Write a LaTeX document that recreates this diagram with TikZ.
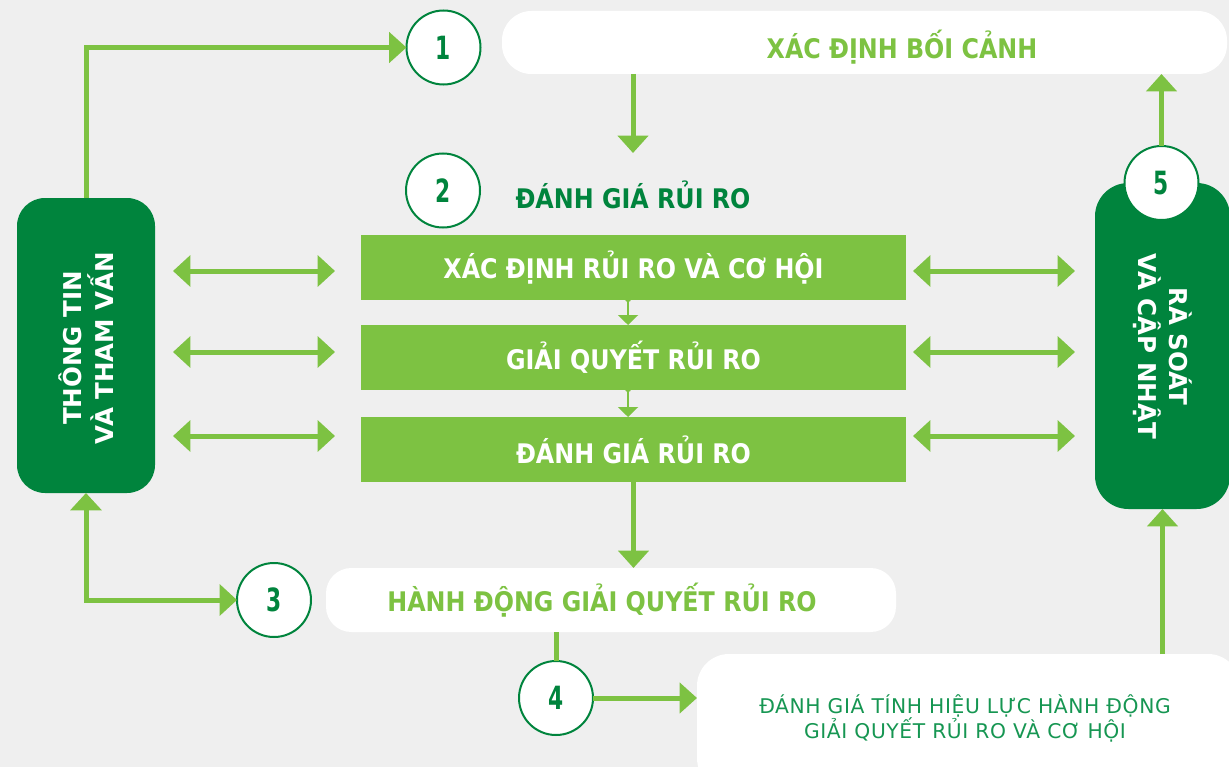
\documentclass[tikz,border=0pt]{standalone}
\usepackage{fontspec}
\setmainfont{DejaVu Sans}
\usetikzlibrary{arrows.meta}
\definecolor{bgc}{RGB}{239,239,239}
\definecolor{dg}{RGB}{0,132,61}
\definecolor{lg}{RGB}{125,194,66}
\definecolor{mg}{RGB}{22,150,82}
\newcommand\numtxt[1]{\scalebox{0.68}[1]{#1}}
\newcommand\tallbig[1]{\scalebox{0.97}[1.1]{#1}}
\tikzset{
  bigtxt/.style={font=\fontsize{18.4}{23.5}\selectfont\bfseries},
  arr/.style={draw=lg, line width=3.75pt, -{Triangle[length=13pt,width=22.5pt]}},
  darr/.style={draw=lg, line width=3.75pt, {Triangle[length=13pt,width=23pt]}-{Triangle[length=13pt,width=23pt]}},
  plainln/.style={draw=lg, line width=3.75pt},
  sarr/.style={draw=lg, line width=1.5pt, {Circle[length=4.5pt]}-{Triangle[length=7.5pt,width=15pt]}},
  num/.style={circle, draw=dg, line width=1.5pt, fill=white, minimum size=55.5pt, inner sep=0pt, outer sep=0pt, text=dg, font=\fontsize{24}{24}\selectfont\bfseries},
  wbox/.style={fill=white, draw=none, inner sep=0pt, outer sep=0pt},
  gbox/.style={fill=lg, draw=none, inner sep=0pt, outer sep=0pt, minimum width=408.75pt, minimum height=48.75pt, text=white, bigtxt},
  dbox/.style={fill=dg, draw=none, inner sep=0pt, outer sep=0pt},
}
\begin{document}
\begin{tikzpicture}[x=0.75pt, y=-0.75pt]
\useasboundingbox (0,0) rectangle (1229,767);
\fill[bgc] (0,0) rectangle (1229,767);
\clip (0,0) rectangle (1229,767);

% white boxes
\node[wbox, minimum width=543.75pt, minimum height=47.25pt, rounded corners=22pt] (t1) at (864.5,42.5) {};
\node[text=lg, bigtxt] (t1txt) at (902,47) {\tallbig{XÁC ĐỊNH BỐI CẢNH}};

\node[wbox, minimum width=427.5pt, minimum height=48pt, rounded corners=19pt] (H) at (611,600) {};
\node[text=lg, bigtxt] (Htxt) at (602,600) {\tallbig{HÀNH ĐỘNG GIẢI QUYẾT RỦI RO}};

\node[wbox, minimum width=407.25pt, minimum height=102pt, rounded corners=24pt] (E) at (968.5,722) {};
\node[text=mg, align=center, font=\fontsize{15.2}{17.25}\selectfont\addfontfeature{LetterSpace=3}] (Etxt) at (965,718.5) {ĐÁNH GIÁ TÍNH HIỆU LỰC HÀNH ĐỘNG\\GIẢI QUYẾT RỦI RO VÀ CƠ HỘI};

% label of step 2
\node[text=dg, bigtxt] (l2) at (633,195) {\tallbig{ĐÁNH GIÁ RỦI RO}};

% green boxes
\node[gbox] (A) at (633.5,267.5) {\tallbig{XÁC ĐỊNH RỦI RO VÀ CƠ HỘI}};
\node[gbox] (B) at (633.5,357.5) {\tallbig{GIẢI QUYẾT RỦI RO}};
\node[gbox] (C) at (633.5,449.5) {\tallbig{ĐÁNH GIÁ RỦI RO}};

% dark side boxes
\node[dbox, minimum width=103.5pt, minimum height=221.25pt, rounded corners=21pt] (L) at (86,345.5) {};
\node[rotate=90, align=center, text=white, bigtxt] (Ltxt) at (86,348) {THÔNG TIN\\VÀ THAM VẤN};

\node[dbox, minimum width=101.25pt, minimum height=244.5pt, rounded corners=25pt] (R) at (1162.5,346) {};
\node[rotate=-90, align=center, text=white, bigtxt] (Rtxt) at (1163,346.5) {RÀ SOÁT\\VÀ CẬP NHẬT};

% number circles
\node[num] (c1) at (443.5,47.5) {\numtxt{1}};
\node[num] (c2) at (443,190.5) {\numtxt{2}};
\node[num] (c3) at (274,600) {\numtxt{3}};
\node[num] (c4) at (556,698) {\numtxt{4}};
\node[num] (c5) at (1161.5,183) {\numtxt{5}};

% free ends
\coordinate (a2) at (633,153);
\coordinate (la1) at (173,271); \coordinate (lb1) at (335,271);
\coordinate (la2) at (173,352); \coordinate (lb2) at (335,352);
\coordinate (la3) at (173,436); \coordinate (lb3) at (335,436);
\coordinate (ra1) at (913,271); \coordinate (rb1) at (1075,271);
\coordinate (ra2) at (913,352); \coordinate (rb2) at (1075,352);
\coordinate (ra3) at (913,436); \coordinate (rb3) at (1075,436);

% connectors
\draw[arr] (L.north) |- (c1.west);
\draw[arr] (t1.south -| a2) -- (a2);
\draw[arr] (c5.north) -- (c5.north |- t1.south);
\draw[darr] (L.south) |- (c3.west);
\draw[arr] (C.south) -- (C.south |- H.north);
\draw[plainln] (c4.north |- H.south) -- (c4.north);
\draw[arr] (c4.east) -- (c4.east -| E.west);
\draw[arr] (R.south |- E.north) -- (R.south);

\draw[sarr] ([xshift=-4.1pt,yshift=3pt]A.south) -- ([xshift=-4.1pt]B.north);
\draw[sarr] ([xshift=-4.1pt,yshift=3pt]B.south) -- ([xshift=-4.1pt]C.north);

\draw[darr] (la1) -- (lb1);
\draw[darr] (la2) -- (lb2);
\draw[darr] (la3) -- (lb3);
\draw[darr] (ra1) -- (rb1);
\draw[darr] (ra2) -- (rb2);
\draw[darr] (ra3) -- (rb3);
\end{tikzpicture}
\end{document}
